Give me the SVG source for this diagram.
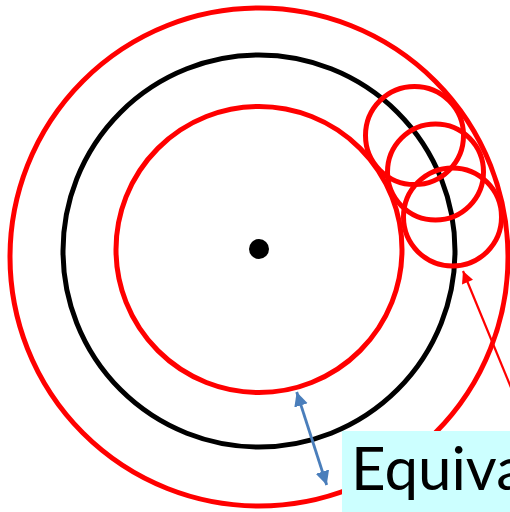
<svg xmlns="http://www.w3.org/2000/svg" width="510" height="512" viewBox="0 0 510 512">
<style>
.red{fill:none;stroke:#ff0000;stroke-width:5}
.blk{fill:none;stroke:#000;stroke-width:5}
.lbl{font-family:Lato,"Open Sans",sans-serif;font-size:60px;fill:#000}
</style>
<defs>
<marker id="ar" viewBox="0 0 10 10" refX="10" refY="5" markerWidth="13" markerHeight="12" markerUnits="userSpaceOnUse" orient="auto">
<path d="M0,0 L10,5 L0,10 z" fill="#ff0000"/>
</marker>
<marker id="ab" viewBox="0 0 10 10" refX="10" refY="5" markerWidth="14" markerHeight="16" markerUnits="userSpaceOnUse" orient="auto-start-reverse">
<path d="M0,0 L10,5 L0,10 z" fill="#4a7ebb"/>
</marker>
</defs>
<g id="outer-circle"><circle class="red" cx="259" cy="257" r="249"/></g>
<g id="black-circle"><circle class="blk" cx="259" cy="251" r="196"/></g>
<g id="inner-circle"><circle class="red" cx="259" cy="249.5" r="143"/></g>
<g id="center"><circle cx="259" cy="249" r="10" fill="#000"/></g>
<g id="small-circle-1"><circle class="red" cx="414.5" cy="135.5" r="49"/></g>
<g id="small-circle-2"><circle class="red" cx="435.5" cy="172" r="48"/></g>
<g id="small-circle-3"><circle class="red" cx="452.5" cy="217" r="49"/></g>
<g id="connectors">
<line x1="512" y1="390" x2="463" y2="271" stroke="#ff0000" stroke-width="2.2" marker-end="url(#ar)"/>
<line x1="296.7" y1="392" x2="326.7" y2="485" stroke="#4a7ebb" stroke-width="2.8" marker-start="url(#ab)" marker-end="url(#ab)"/>
</g>
<g id="label">
<rect x="342" y="431" width="170" height="83" fill="#ccffff"/>
<text class="lbl" x="351" y="490">Equiva</text>
</g>
</svg>
